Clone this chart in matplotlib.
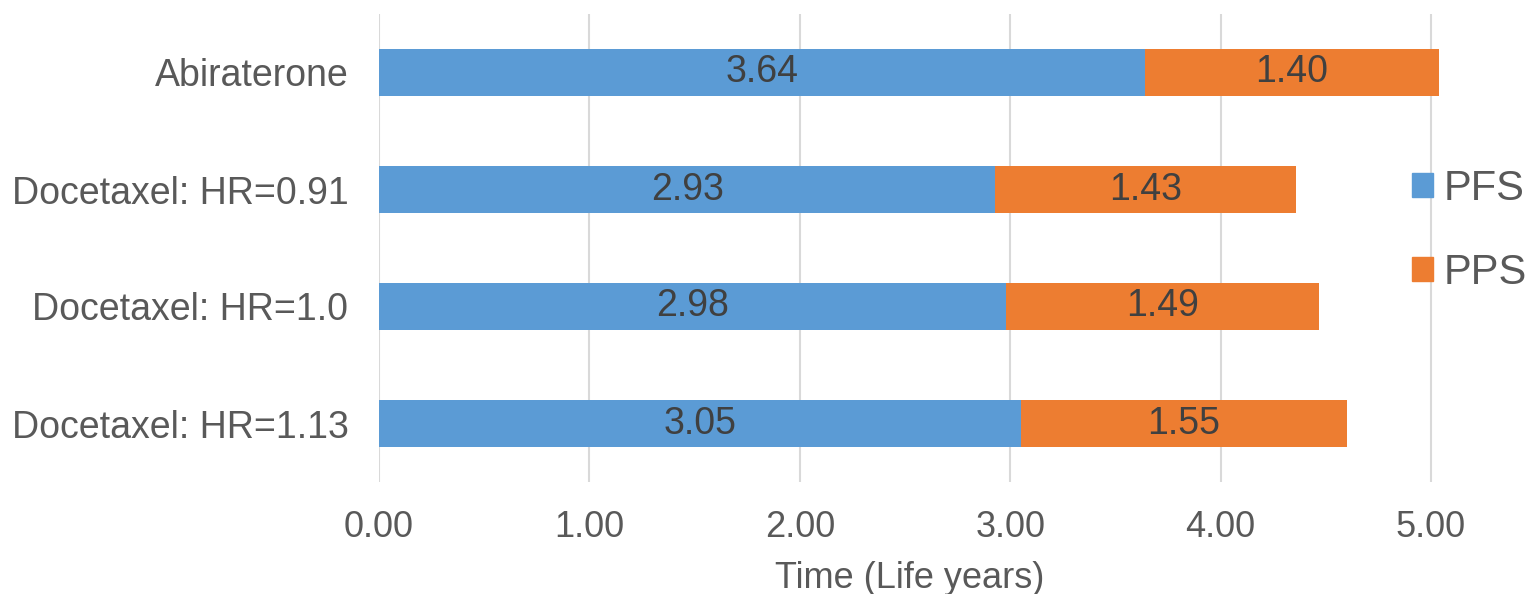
import matplotlib.pyplot as plt
from matplotlib.patches import Patch

categories = ["Abiraterone", "Docetaxel: HR=0.91",
              "Docetaxel: HR=1.0", "Docetaxel: HR=1.13"]
pfs = [3.64, 2.93, 2.98, 3.05]
pps = [1.40, 1.43, 1.49, 1.55]
x_ticks = [0, 1, 2, 3, 4, 5]

blue = "#5b9bd5"
orange = "#ed7d31"
grey = "#595959"

plt.rcParams['font.family'] = ['Liberation Sans', 'DejaVu Sans']

fig = plt.figure(figsize=(15.3, 5.94), dpi=100)
ax = fig.add_axes([379 / 1530, 1 - 482 / 594, (1439.4 - 379) / 1530,
                   (482 - 14) / 594])

y = list(range(len(categories)))
ax.barh(y, pfs, height=0.40, color=blue, zorder=2)
ax.barh(y, pps, left=pfs, height=0.40, color=orange, zorder=2)

for i in range(len(categories)):
    ax.text(pfs[i] / 2, y[i], f"{pfs[i]:.2f}", ha="center", va="center",
            fontsize=27, color="#404040", zorder=3)
    ax.text(pfs[i] + pps[i] / 2, y[i], f"{pps[i]:.2f}", ha="center",
            va="center", fontsize=27, color="#404040", zorder=3)

ax.set_ylim(len(categories) - 0.5, -0.5)
ax.set_xlim(0, 5.04)
ax.set_yticks(y)
ax.set_yticklabels(categories, fontsize=27, color=grey)
ax.set_xticks(x_ticks)
ax.set_xticklabels([f"{t:.2f}" for t in x_ticks], fontsize=26, color=grey)
ax.tick_params(length=0)
ax.tick_params(axis="y", pad=22)
ax.tick_params(axis="x", pad=20)
ax.set_xlabel("Time (Life years)", fontsize=26, color=grey, labelpad=12)

for s in ax.spines.values():
    s.set_visible(False)
ax.xaxis.grid(True, color="#d9d9d9", linewidth=1.5, zorder=0)
ax.set_axisbelow(True)

handles = [Patch(color=blue), Patch(color=orange)]
fig.legend(handles, ["PFS", "PPS"], loc="center left",
           bbox_to_anchor=(1412 / 1530, 1 - 231 / 594), frameon=False,
           fontsize=30, labelcolor=grey, handlelength=0.5,
           handleheight=0.5, handletextpad=0.25, labelspacing=1.05,
           borderpad=0, borderaxespad=0)

fig.savefig("out.png", dpi=100)
plt.close(fig)
